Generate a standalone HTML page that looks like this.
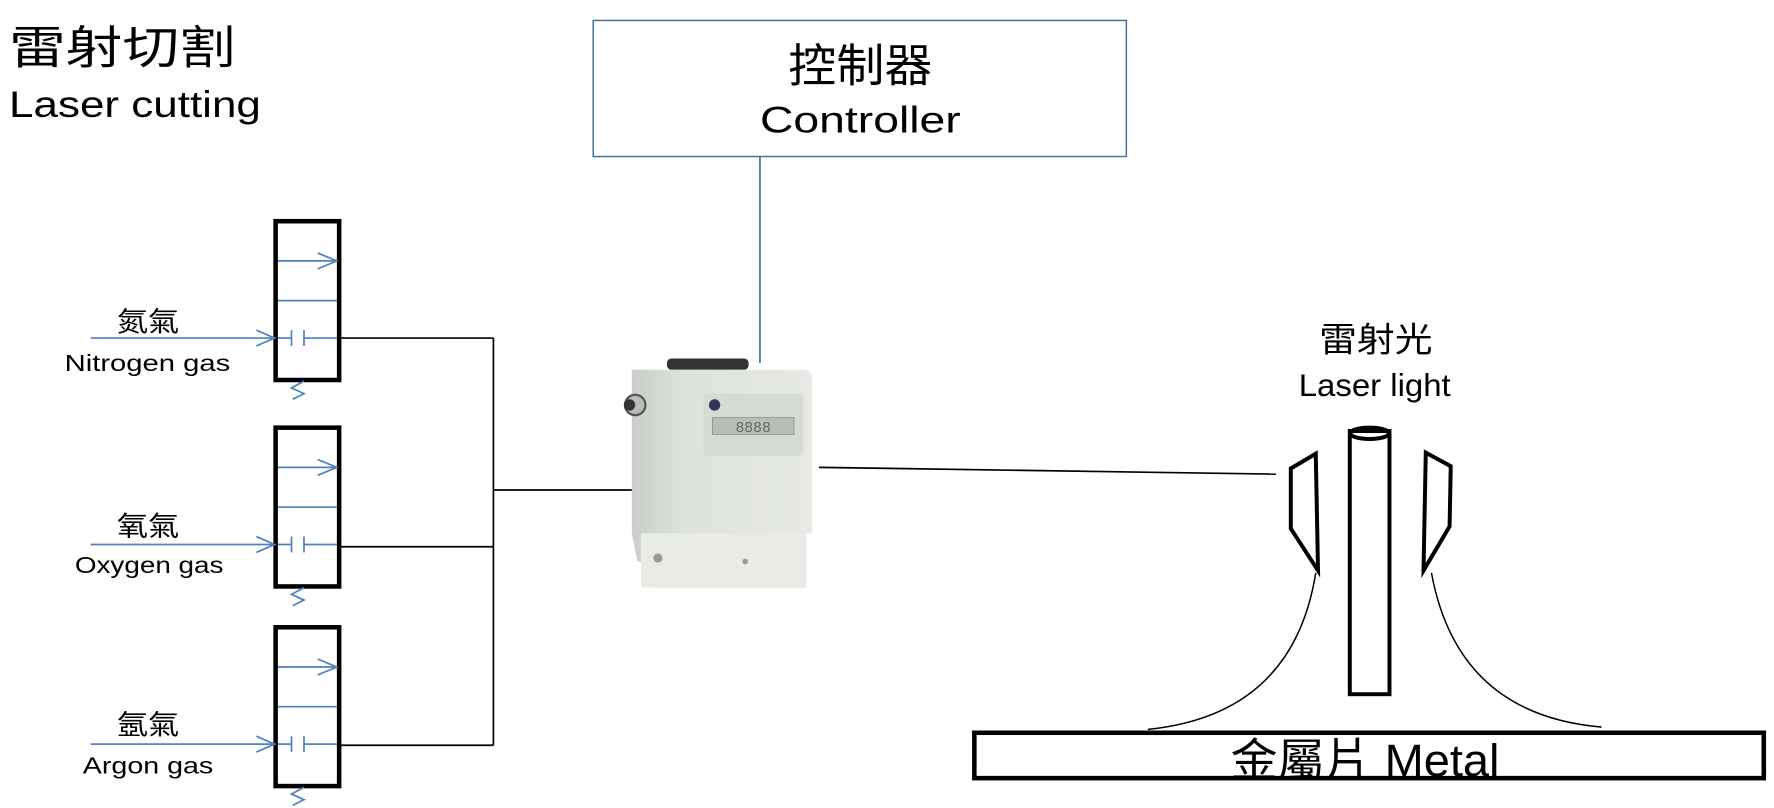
<!DOCTYPE html>
<html><head><meta charset="utf-8"><style>html,body{margin:0;padding:0;background:#fff}svg{display:block}</style></head>
<body>
<svg width="1774" height="808" viewBox="0 0 1564 712.3" xmlns="http://www.w3.org/2000/svg" font-family="'Liberation Sans','Noto Sans CJK TC',sans-serif">
<defs>
<linearGradient id="body" x1="0" x2="1" y1="0" y2="0"><stop offset="0" stop-color="#c9cec8"/><stop offset="0.3" stop-color="#dfe3dd"/><stop offset="1" stop-color="#e6e9e4"/></linearGradient>
<g id="valve">
<rect x="243" y="0" width="56" height="140" fill="none" stroke="#000" stroke-width="4"/>
<line x1="245" y1="35" x2="297" y2="35" stroke="#4f81bd" stroke-width="1.5"/>
<polyline points="280,28 297,35 280,42" fill="none" stroke="#4f81bd" stroke-width="1.5"/>
<line x1="245" y1="70" x2="297" y2="70" stroke="#4f81bd" stroke-width="1.5"/>
<line x1="80" y1="103" x2="243" y2="103" stroke="#4f81bd" stroke-width="1.5"/>
<polyline points="226,96 242,103 226,110" fill="none" stroke="#4f81bd" stroke-width="1.5"/>
<line x1="245" y1="103" x2="257" y2="103" stroke="#4f81bd" stroke-width="1.5"/>
<line x1="257" y1="96" x2="257" y2="110" stroke="#4f81bd" stroke-width="1.5"/>
<line x1="268" y1="96" x2="268" y2="110" stroke="#4f81bd" stroke-width="1.5"/>
<line x1="268" y1="103" x2="297" y2="103" stroke="#4f81bd" stroke-width="1.5"/>
<polyline points="268,141 257,147 268,152 258,157" fill="none" stroke="#4f81bd" stroke-width="1.5"/>
</g>
<clipPath id="mc"><rect x="860" y="647" width="694" height="38"/></clipPath>
</defs>
<text x="8" y="56" font-size="40" textLength="200" lengthAdjust="spacingAndGlyphs">雷射切割</text>
<text x="8" y="103" font-size="33" textLength="222" lengthAdjust="spacingAndGlyphs">Laser cutting</text>
<rect x="523" y="18" width="470" height="120" fill="none" stroke="#41719c" stroke-width="1.3"/>
<text x="695" y="72" font-size="40" textLength="127" lengthAdjust="spacingAndGlyphs">控制器</text>
<text x="670" y="117" font-size="33" textLength="177" lengthAdjust="spacingAndGlyphs">Controller</text>
<line x1="670" y1="138" x2="670" y2="320" stroke="#41719c" stroke-width="1.5"/>
<use href="#valve" y="195"/>
<use href="#valve" y="377"/>
<use href="#valve" y="553"/>
<text x="103" y="292" font-size="24" textLength="55" lengthAdjust="spacingAndGlyphs">氮氣</text>
<text x="57" y="327" font-size="20" textLength="146" lengthAdjust="spacingAndGlyphs">Nitrogen gas</text>
<text x="103" y="472" font-size="24" textLength="55" lengthAdjust="spacingAndGlyphs">氧氣</text>
<text x="66" y="505" font-size="20" textLength="131" lengthAdjust="spacingAndGlyphs">Oxygen gas</text>
<text x="103" y="647" font-size="24" textLength="55" lengthAdjust="spacingAndGlyphs">氬氣</text>
<text x="73" y="682" font-size="20" textLength="115" lengthAdjust="spacingAndGlyphs">Argon gas</text>
<g stroke="#000" stroke-width="1.5" fill="none">
<line x1="299" y1="298" x2="435" y2="298"/>
<line x1="299" y1="482" x2="435" y2="482"/>
<line x1="299" y1="657" x2="435" y2="657"/>
<line x1="435" y1="298" x2="435" y2="657"/>
<line x1="435" y1="432" x2="572" y2="432"/>
<line x1="722" y1="412" x2="1125" y2="418"/>
</g>
<!-- device -->
<rect x="588" y="316" width="72" height="10" rx="4" fill="#333"/>
<path d="M557 326 H708 Q716 326 716 334 V470 H708 V518 H575 V495 H562 L557 470 Z" fill="url(#body)"/>
<rect x="565" y="470" width="146" height="48" fill="#e9ebe7"/>
<rect x="620" y="347" width="88" height="55" rx="4" fill="#d6dbd5"/>
<rect x="628" y="368" width="72" height="15" fill="#b8beb8" stroke="#888" stroke-width="0.6"/>
<text x="664" y="381" font-size="13" fill="#666" text-anchor="middle" font-family="'Liberation Mono',monospace">8888</text>
<circle cx="630" cy="357" r="5" fill="#335"/>
<circle cx="560" cy="357" r="9" fill="#bcbcb6" stroke="#555" stroke-width="2"/>
<circle cx="555" cy="357" r="5" fill="#333"/>
<circle cx="580" cy="492" r="4" fill="#999"/>
<circle cx="657" cy="495" r="2.5" fill="#999"/>
<!-- laser -->
<text x="1163" y="310" font-size="30" textLength="100" lengthAdjust="spacingAndGlyphs">雷射光</text>
<text x="1145" y="349" font-size="28" textLength="134" lengthAdjust="spacingAndGlyphs">Laser light</text>
<g stroke="#000" stroke-width="3.5" fill="none">
<rect x="1190" y="380" width="35" height="232"/>
<ellipse cx="1207.5" cy="382" rx="17" ry="5"/>
<polygon points="1138,413 1160,400 1162,503 1138,466"/>
<polygon points="1257,399 1279,411 1278,464 1255,503"/>
</g>
<g stroke="#000" stroke-width="1.3" fill="none">
<path d="M1160 505 Q1140 630 1012 643"/>
<path d="M1262 505 Q1285 630 1412 641"/>
</g>
<g clip-path="url(#mc)"><text x="1085" y="684" font-size="40" textLength="237" lengthAdjust="spacingAndGlyphs">金屬片 Metal</text></g>
<rect x="859" y="646" width="696" height="40" fill="none" stroke="#000" stroke-width="4"/>
</svg>
</body></html>
